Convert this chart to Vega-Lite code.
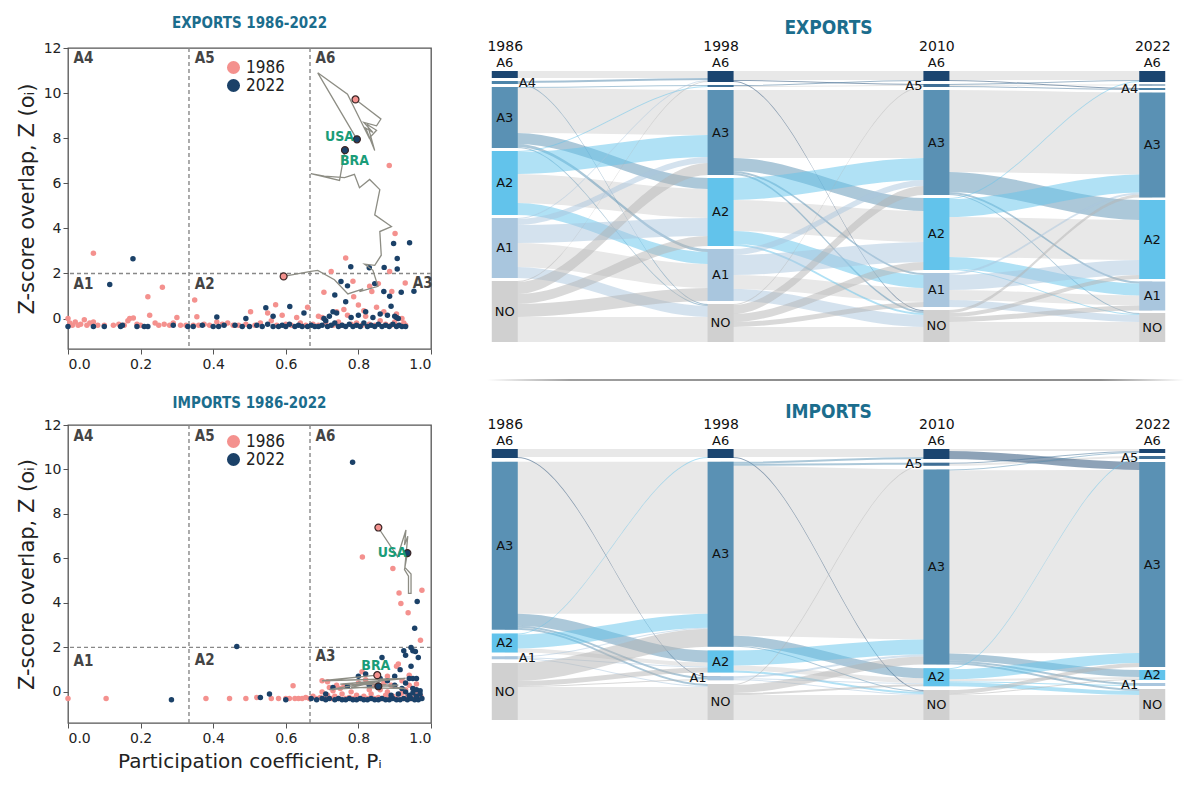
{
"$schema":"https://vega.github.io/schema/vega-lite/v6.json",
"background":"white",
"padding":{"left":15,"top":15,"right":5,"bottom":5},
"config":{"view":{"stroke":null},"font":"DejaVu Sans","axis":{"labelFont":"DejaVu Sans","titleFont":"DejaVu Sans","labelColor":"#222","titleColor":"#222","tickColor":"#555"}},
"datasets":{
"pts":[
{"p":"E","yr":"1986","x":0.07,"y":2.9},{"p":"E","yr":"1986","x":0.22,"y":0.97},{"p":"E","yr":"1986","x":0.26,"y":1.39},{"p":"E","yr":"1986","x":0.225,"y":0.15},{"p":"E","yr":"1986","x":0.349,"y":0.82},{"p":"E","yr":"1986","x":0.355,"y":0.08},{"p":"E","yr":"1986","x":0.503,"y":0.3},{"p":"E","yr":"1986","x":0.572,"y":0.61},{"p":"E","yr":"1986","x":0.55,"y":0.25},{"p":"E","yr":"1986","x":0.59,"y":0.15},{"p":"E","yr":"1986","x":0.66,"y":0.5},{"p":"E","yr":"1986","x":0.765,"y":2.69},{"p":"E","yr":"1986","x":0.725,"y":2.09},{"p":"E","yr":"1986","x":0.705,"y":1.17},{"p":"E","yr":"1986","x":0.785,"y":1.65},{"p":"E","yr":"1986","x":0.787,"y":0.97},{"p":"E","yr":"1986","x":0.76,"y":0.4},{"p":"E","yr":"1986","x":0.74,"y":0.3},{"p":"E","yr":"1986","x":0.831,"y":1.43},{"p":"E","yr":"1986","x":0.837,"y":1.2},{"p":"E","yr":"1986","x":0.855,"y":1.55},{"p":"E","yr":"1986","x":0.885,"y":6.79},{"p":"E","yr":"1986","x":0.901,"y":3.77},{"p":"E","yr":"1986","x":0.886,"y":2.09},{"p":"E","yr":"1986","x":0.892,"y":1.2},{"p":"E","yr":"1986","x":0.929,"y":1.58},{"p":"E","yr":"1986","x":0.85,"y":0.5},{"p":"E","yr":"1986","x":0.87,"y":0.3},{"p":"E","yr":"1986","x":0.905,"y":0.2},{"p":"E","yr":"1986","x":0.92,"y":0.0},{"p":"E","yr":"1986","x":0.8,"y":0.6},{"p":"E","yr":"1986","x":0.815,"y":0.35},{"p":"E","yr":"1986","x":0.69,"y":0.1},{"p":"E","yr":"1986","x":0.7,"y":0.05},{"p":"E","yr":"1986","x":0.63,"y":0.05},
{"p":"E","yr":"1986","x":0.0,"y":0.0},{"p":"E","yr":"1986","x":0.005,"y":-0.2},{"p":"E","yr":"1986","x":0.012,"y":-0.3},{"p":"E","yr":"1986","x":0.02,"y":-0.15},{"p":"E","yr":"1986","x":0.028,"y":-0.3},{"p":"E","yr":"1986","x":0.035,"y":-0.25},{"p":"E","yr":"1986","x":0.045,"y":-0.05},{"p":"E","yr":"1986","x":0.052,"y":-0.3},{"p":"E","yr":"1986","x":0.06,"y":-0.2},{"p":"E","yr":"1986","x":0.07,"y":-0.15},{"p":"E","yr":"1986","x":0.082,"y":-0.3},{"p":"E","yr":"1986","x":0.1,"y":-0.3},{"p":"E","yr":"1986","x":0.125,"y":-0.3},{"p":"E","yr":"1986","x":0.14,"y":-0.25},{"p":"E","yr":"1986","x":0.155,"y":-0.3},{"p":"E","yr":"1986","x":0.165,"y":-0.1},{"p":"E","yr":"1986","x":0.17,"y":0.0},{"p":"E","yr":"1986","x":0.18,"y":0.02},{"p":"E","yr":"1986","x":0.19,"y":-0.25},{"p":"E","yr":"1986","x":0.2,"y":-0.3},{"p":"E","yr":"1986","x":0.24,"y":-0.2},{"p":"E","yr":"1986","x":0.25,"y":-0.3},{"p":"E","yr":"1986","x":0.265,"y":-0.25},{"p":"E","yr":"1986","x":0.28,"y":-0.3},{"p":"E","yr":"1986","x":0.29,"y":-0.2},{"p":"E","yr":"1986","x":0.3,"y":0.05},{"p":"E","yr":"1986","x":0.31,"y":-0.3},{"p":"E","yr":"1986","x":0.325,"y":-0.3},{"p":"E","yr":"1986","x":0.345,"y":-0.3},{"p":"E","yr":"1986","x":0.36,"y":-0.3},{"p":"E","yr":"1986","x":0.375,"y":-0.25},{"p":"E","yr":"1986","x":0.39,"y":-0.3},{"p":"E","yr":"1986","x":0.41,"y":-0.15},{"p":"E","yr":"1986","x":0.425,"y":-0.25},{"p":"E","yr":"1986","x":0.44,"y":-0.2},{"p":"E","yr":"1986","x":0.455,"y":-0.3},{"p":"E","yr":"1986","x":0.47,"y":-0.3},{"p":"E","yr":"1986","x":0.49,"y":-0.25},{"p":"E","yr":"1986","x":0.515,"y":-0.3},{"p":"E","yr":"1986","x":0.53,"y":-0.2},{"p":"E","yr":"1986","x":0.56,"y":-0.1},{"p":"E","yr":"1986","x":0.575,"y":-0.3},{"p":"E","yr":"1986","x":0.6,"y":-0.25},{"p":"E","yr":"1986","x":0.615,"y":-0.3},{"p":"E","yr":"1986","x":0.64,"y":-0.2},{"p":"E","yr":"1986","x":0.655,"y":-0.3},{"p":"E","yr":"1986","x":0.675,"y":-0.25},{"p":"E","yr":"1986","x":0.69,"y":-0.3},{"p":"E","yr":"1986","x":0.71,"y":-0.2},{"p":"E","yr":"1986","x":0.73,"y":-0.3},{"p":"E","yr":"1986","x":0.745,"y":-0.15},{"p":"E","yr":"1986","x":0.755,"y":-0.3},{"p":"E","yr":"1986","x":0.77,"y":0.15},{"p":"E","yr":"1986","x":0.78,"y":-0.25},{"p":"E","yr":"1986","x":0.795,"y":-0.2},{"p":"E","yr":"1986","x":0.81,"y":-0.3},{"p":"E","yr":"1986","x":0.82,"y":0.1},{"p":"E","yr":"1986","x":0.83,"y":-0.25},{"p":"E","yr":"1986","x":0.845,"y":-0.3},{"p":"E","yr":"1986","x":0.86,"y":-0.1},{"p":"E","yr":"1986","x":0.875,"y":-0.25},{"p":"E","yr":"1986","x":0.89,"y":-0.3},{"p":"E","yr":"1986","x":0.9,"y":-0.15},{"p":"E","yr":"1986","x":0.915,"y":-0.3},{"p":"E","yr":"1986","x":0.925,"y":-0.2},{"p":"E","yr":"1986","x":0.93,"y":-0.3},
{"p":"E","yr":"2022","x":0.115,"y":1.51},{"p":"E","yr":"2022","x":0.179,"y":2.65},{"p":"E","yr":"2022","x":0.41,"y":0.07},{"p":"E","yr":"2022","x":0.49,"y":0.0},{"p":"E","yr":"2022","x":0.545,"y":0.48},{"p":"E","yr":"2022","x":0.565,"y":0.1},{"p":"E","yr":"2022","x":0.611,"y":0.54},{"p":"E","yr":"2022","x":0.65,"y":0.25},{"p":"E","yr":"2022","x":0.73,"y":0.3},{"p":"E","yr":"2022","x":0.735,"y":1.05},{"p":"E","yr":"2022","x":0.765,"y":0.75},{"p":"E","yr":"2022","x":0.752,"y":1.64},{"p":"E","yr":"2022","x":0.77,"y":1.45},{"p":"E","yr":"2022","x":0.779,"y":2.3},{"p":"E","yr":"2022","x":0.83,"y":2.25},{"p":"E","yr":"2022","x":0.845,"y":1.55},{"p":"E","yr":"2022","x":0.87,"y":1.2},{"p":"E","yr":"2022","x":0.871,"y":2.27},{"p":"E","yr":"2022","x":0.886,"y":0.99},{"p":"E","yr":"2022","x":0.89,"y":0.55},{"p":"E","yr":"2022","x":0.897,"y":3.33},{"p":"E","yr":"2022","x":0.907,"y":2.66},{"p":"E","yr":"2022","x":0.907,"y":2.2},{"p":"E","yr":"2022","x":0.918,"y":1.17},{"p":"E","yr":"2022","x":0.941,"y":3.36},{"p":"E","yr":"2022","x":0.953,"y":1.21},{"p":"E","yr":"2022","x":0.9,"y":0.1},{"p":"E","yr":"2022","x":0.91,"y":0.0},{"p":"E","yr":"2022","x":0.88,"y":0.15},{"p":"E","yr":"2022","x":0.86,"y":0.2},{"p":"E","yr":"2022","x":0.82,"y":0.3},{"p":"E","yr":"2022","x":0.8,"y":0.15},{"p":"E","yr":"2022","x":0.78,"y":0.05},{"p":"E","yr":"2022","x":0.74,"y":0.25},{"p":"E","yr":"2022","x":0.72,"y":0.1},{"p":"E","yr":"2022","x":0.705,"y":0.0},{"p":"E","yr":"2022","x":0.84,"y":0.05},{"p":"E","yr":"2022","x":0.905,"y":0.05},
{"p":"E","yr":"2022","x":0.0,"y":-0.35},{"p":"E","yr":"2022","x":0.07,"y":-0.35},{"p":"E","yr":"2022","x":0.1,"y":-0.35},{"p":"E","yr":"2022","x":0.145,"y":-0.35},{"p":"E","yr":"2022","x":0.15,"y":-0.3},{"p":"E","yr":"2022","x":0.19,"y":-0.35},{"p":"E","yr":"2022","x":0.21,"y":-0.35},{"p":"E","yr":"2022","x":0.22,"y":-0.35},{"p":"E","yr":"2022","x":0.29,"y":-0.3},{"p":"E","yr":"2022","x":0.33,"y":-0.35},{"p":"E","yr":"2022","x":0.345,"y":-0.35},{"p":"E","yr":"2022","x":0.37,"y":-0.3},{"p":"E","yr":"2022","x":0.4,"y":-0.35},{"p":"E","yr":"2022","x":0.415,"y":-0.35},{"p":"E","yr":"2022","x":0.43,"y":-0.3},{"p":"E","yr":"2022","x":0.46,"y":-0.3},{"p":"E","yr":"2022","x":0.48,"y":-0.35},{"p":"E","yr":"2022","x":0.5,"y":-0.35},{"p":"E","yr":"2022","x":0.52,"y":-0.3},{"p":"E","yr":"2022","x":0.535,"y":-0.35},{"p":"E","yr":"2022","x":0.55,"y":-0.25},{"p":"E","yr":"2022","x":0.565,"y":-0.35},{"p":"E","yr":"2022","x":0.58,"y":-0.35},{"p":"E","yr":"2022","x":0.59,"y":-0.3},{"p":"E","yr":"2022","x":0.6,"y":-0.35},{"p":"E","yr":"2022","x":0.61,"y":-0.25},{"p":"E","yr":"2022","x":0.625,"y":-0.35},{"p":"E","yr":"2022","x":0.635,"y":-0.3},{"p":"E","yr":"2022","x":0.645,"y":-0.35},{"p":"E","yr":"2022","x":0.66,"y":-0.35},{"p":"E","yr":"2022","x":0.67,"y":-0.3},{"p":"E","yr":"2022","x":0.68,"y":-0.35},{"p":"E","yr":"2022","x":0.69,"y":-0.35},{"p":"E","yr":"2022","x":0.7,"y":-0.3},{"p":"E","yr":"2022","x":0.71,"y":-0.1},{"p":"E","yr":"2022","x":0.715,"y":-0.35},{"p":"E","yr":"2022","x":0.725,"y":-0.3},{"p":"E","yr":"2022","x":0.735,"y":-0.2},{"p":"E","yr":"2022","x":0.745,"y":-0.35},{"p":"E","yr":"2022","x":0.755,"y":-0.3},{"p":"E","yr":"2022","x":0.765,"y":-0.35},{"p":"E","yr":"2022","x":0.775,"y":-0.25},{"p":"E","yr":"2022","x":0.785,"y":-0.35},{"p":"E","yr":"2022","x":0.795,"y":-0.3},{"p":"E","yr":"2022","x":0.805,"y":-0.35},{"p":"E","yr":"2022","x":0.815,"y":-0.2},{"p":"E","yr":"2022","x":0.825,"y":-0.35},{"p":"E","yr":"2022","x":0.835,"y":-0.3},{"p":"E","yr":"2022","x":0.845,"y":-0.35},{"p":"E","yr":"2022","x":0.855,"y":-0.25},{"p":"E","yr":"2022","x":0.865,"y":-0.35},{"p":"E","yr":"2022","x":0.875,"y":-0.3},{"p":"E","yr":"2022","x":0.885,"y":-0.35},{"p":"E","yr":"2022","x":0.895,"y":-0.25},{"p":"E","yr":"2022","x":0.905,"y":-0.35},{"p":"E","yr":"2022","x":0.912,"y":-0.3},{"p":"E","yr":"2022","x":0.92,"y":-0.35},{"p":"E","yr":"2022","x":0.93,"y":-0.35},
{"p":"I","yr":"1986","x":0.0,"y":-0.3},{"p":"I","yr":"1986","x":0.105,"y":-0.3},{"p":"I","yr":"1986","x":0.38,"y":-0.3},{"p":"I","yr":"1986","x":0.445,"y":-0.3},{"p":"I","yr":"1986","x":0.49,"y":-0.3},{"p":"I","yr":"1986","x":0.52,"y":-0.25},{"p":"I","yr":"1986","x":0.56,"y":-0.3},{"p":"I","yr":"1986","x":0.58,"y":-0.3},{"p":"I","yr":"1986","x":0.6,"y":-0.3},{"p":"I","yr":"1986","x":0.62,"y":0.27},{"p":"I","yr":"1986","x":0.811,"y":6.06},{"p":"I","yr":"1986","x":0.895,"y":5.55},{"p":"I","yr":"1986","x":0.912,"y":4.45},{"p":"I","yr":"1986","x":0.917,"y":3.97},{"p":"I","yr":"1986","x":0.937,"y":3.56},{"p":"I","yr":"1986","x":0.975,"y":4.57},{"p":"I","yr":"1986","x":0.971,"y":2.32},{"p":"I","yr":"1986","x":0.91,"y":1.25},{"p":"I","yr":"1986","x":0.905,"y":1.15},{"p":"I","yr":"1986","x":0.88,"y":0.7},{"p":"I","yr":"1986","x":0.92,"y":0.5},{"p":"I","yr":"1986","x":0.95,"y":0.15},{"p":"I","yr":"1986","x":0.89,"y":0.3},{"p":"I","yr":"1986","x":0.7,"y":0.5},{"p":"I","yr":"1986","x":0.715,"y":0.45},{"p":"I","yr":"1986","x":0.72,"y":0.2},{"p":"I","yr":"1986","x":0.74,"y":0.3},{"p":"I","yr":"1986","x":0.75,"y":0.15},{"p":"I","yr":"1986","x":0.76,"y":0.25},{"p":"I","yr":"1986","x":0.8,"y":0.4},{"p":"I","yr":"1986","x":0.82,"y":0.55},{"p":"I","yr":"1986","x":0.84,"y":0.3},{"p":"I","yr":"1986","x":0.86,"y":0.1},{"p":"I","yr":"1986","x":0.87,"y":0.4},{"p":"I","yr":"1986","x":0.9,"y":0.25},{"p":"I","yr":"1986","x":0.93,"y":0.1},{"p":"I","yr":"1986","x":0.94,"y":0.3},{"p":"I","yr":"1986","x":0.96,"y":0.0},{"p":"I","yr":"1986","x":0.81,"y":0.9},{"p":"I","yr":"1986","x":0.94,"y":0.75},{"p":"I","yr":"1986","x":0.96,"y":0.35},
{"p":"I","yr":"1986","x":0.61,"y":-0.3},{"p":"I","yr":"1986","x":0.625,"y":-0.3},{"p":"I","yr":"1986","x":0.635,"y":-0.3},{"p":"I","yr":"1986","x":0.645,"y":-0.3},{"p":"I","yr":"1986","x":0.655,"y":-0.25},{"p":"I","yr":"1986","x":0.665,"y":-0.3},{"p":"I","yr":"1986","x":0.675,"y":-0.2},{"p":"I","yr":"1986","x":0.685,"y":-0.3},{"p":"I","yr":"1986","x":0.695,"y":-0.25},{"p":"I","yr":"1986","x":0.705,"y":-0.3},{"p":"I","yr":"1986","x":0.715,"y":-0.15},{"p":"I","yr":"1986","x":0.725,"y":-0.3},{"p":"I","yr":"1986","x":0.735,"y":-0.2},{"p":"I","yr":"1986","x":0.745,"y":-0.3},{"p":"I","yr":"1986","x":0.755,"y":-0.1},{"p":"I","yr":"1986","x":0.765,"y":-0.3},{"p":"I","yr":"1986","x":0.775,"y":-0.25},{"p":"I","yr":"1986","x":0.785,"y":-0.3},{"p":"I","yr":"1986","x":0.795,"y":-0.15},{"p":"I","yr":"1986","x":0.805,"y":-0.3},{"p":"I","yr":"1986","x":0.815,"y":-0.2},{"p":"I","yr":"1986","x":0.825,"y":-0.3},{"p":"I","yr":"1986","x":0.835,"y":-0.1},{"p":"I","yr":"1986","x":0.845,"y":-0.3},{"p":"I","yr":"1986","x":0.855,"y":-0.25},{"p":"I","yr":"1986","x":0.865,"y":-0.3},{"p":"I","yr":"1986","x":0.875,"y":-0.15},{"p":"I","yr":"1986","x":0.885,"y":-0.3},{"p":"I","yr":"1986","x":0.895,"y":-0.2},{"p":"I","yr":"1986","x":0.905,"y":-0.3},{"p":"I","yr":"1986","x":0.915,"y":-0.1},{"p":"I","yr":"1986","x":0.925,"y":-0.3},{"p":"I","yr":"1986","x":0.935,"y":-0.2},{"p":"I","yr":"1986","x":0.945,"y":-0.3},{"p":"I","yr":"1986","x":0.955,"y":-0.25},{"p":"I","yr":"1986","x":0.965,"y":-0.3},{"p":"I","yr":"1986","x":0.972,"y":-0.2},{"p":"I","yr":"1986","x":0.7,"y":0.0},{"p":"I","yr":"1986","x":0.73,"y":0.05},{"p":"I","yr":"1986","x":0.78,"y":0.0},{"p":"I","yr":"1986","x":0.83,"y":0.1},{"p":"I","yr":"1986","x":0.88,"y":0.0},{"p":"I","yr":"1986","x":0.92,"y":-0.05},
{"p":"I","yr":"2022","x":0.285,"y":-0.35},{"p":"I","yr":"2022","x":0.465,"y":2.04},{"p":"I","yr":"2022","x":0.53,"y":-0.25},{"p":"I","yr":"2022","x":0.555,"y":-0.1},{"p":"I","yr":"2022","x":0.6,"y":-0.35},{"p":"I","yr":"2022","x":0.67,"y":-0.3},{"p":"I","yr":"2022","x":0.784,"y":10.33},{"p":"I","yr":"2022","x":0.962,"y":4.06},{"p":"I","yr":"2022","x":0.955,"y":2.86},{"p":"I","yr":"2022","x":0.945,"y":2.0},{"p":"I","yr":"2022","x":0.95,"y":1.85},{"p":"I","yr":"2022","x":0.957,"y":1.82},{"p":"I","yr":"2022","x":0.925,"y":1.85},{"p":"I","yr":"2022","x":0.93,"y":1.65},{"p":"I","yr":"2022","x":0.965,"y":1.55},{"p":"I","yr":"2022","x":0.865,"y":1.55},{"p":"I","yr":"2022","x":0.945,"y":1.15},{"p":"I","yr":"2022","x":0.915,"y":1.0},{"p":"I","yr":"2022","x":0.94,"y":0.6},{"p":"I","yr":"2022","x":0.95,"y":0.6},{"p":"I","yr":"2022","x":0.96,"y":0.6},{"p":"I","yr":"2022","x":0.9,"y":0.7},{"p":"I","yr":"2022","x":0.86,"y":0.6},{"p":"I","yr":"2022","x":0.82,"y":0.8},{"p":"I","yr":"2022","x":0.8,"y":0.7},{"p":"I","yr":"2022","x":0.9,"y":0.3},{"p":"I","yr":"2022","x":0.92,"y":0.15},{"p":"I","yr":"2022","x":0.95,"y":0.15},{"p":"I","yr":"2022","x":0.96,"y":0.1},{"p":"I","yr":"2022","x":0.83,"y":0.3},{"p":"I","yr":"2022","x":0.77,"y":0.25},{"p":"I","yr":"2022","x":0.73,"y":0.2},{"p":"I","yr":"2022","x":0.71,"y":-0.1},{"p":"I","yr":"2022","x":0.88,"y":0.5},{"p":"I","yr":"2022","x":0.93,"y":0.4},{"p":"I","yr":"2022","x":0.97,"y":0.05},
{"p":"I","yr":"2022","x":0.685,"y":-0.35},{"p":"I","yr":"2022","x":0.7,"y":-0.3},{"p":"I","yr":"2022","x":0.71,"y":-0.35},{"p":"I","yr":"2022","x":0.72,"y":-0.3},{"p":"I","yr":"2022","x":0.735,"y":-0.35},{"p":"I","yr":"2022","x":0.745,"y":-0.3},{"p":"I","yr":"2022","x":0.755,"y":-0.35},{"p":"I","yr":"2022","x":0.765,"y":-0.35},{"p":"I","yr":"2022","x":0.775,"y":-0.3},{"p":"I","yr":"2022","x":0.785,"y":-0.35},{"p":"I","yr":"2022","x":0.795,"y":-0.35},{"p":"I","yr":"2022","x":0.805,"y":-0.3},{"p":"I","yr":"2022","x":0.815,"y":-0.35},{"p":"I","yr":"2022","x":0.825,"y":-0.35},{"p":"I","yr":"2022","x":0.835,"y":-0.3},{"p":"I","yr":"2022","x":0.845,"y":-0.35},{"p":"I","yr":"2022","x":0.855,"y":-0.35},{"p":"I","yr":"2022","x":0.865,"y":-0.3},{"p":"I","yr":"2022","x":0.875,"y":-0.35},{"p":"I","yr":"2022","x":0.885,"y":-0.35},{"p":"I","yr":"2022","x":0.895,"y":-0.3},{"p":"I","yr":"2022","x":0.905,"y":-0.35},{"p":"I","yr":"2022","x":0.915,"y":-0.35},{"p":"I","yr":"2022","x":0.925,"y":-0.3},{"p":"I","yr":"2022","x":0.935,"y":-0.35},{"p":"I","yr":"2022","x":0.945,"y":-0.3},{"p":"I","yr":"2022","x":0.955,"y":-0.35},{"p":"I","yr":"2022","x":0.965,"y":-0.35},{"p":"I","yr":"2022","x":0.975,"y":-0.3},{"p":"I","yr":"2022","x":0.94,"y":-0.15},{"p":"I","yr":"2022","x":0.95,"y":-0.05},{"p":"I","yr":"2022","x":0.93,"y":0.0},{"p":"I","yr":"2022","x":0.96,"y":-0.2},{"p":"I","yr":"2022","x":0.91,"y":-0.1},{"p":"I","yr":"2022","x":0.89,"y":-0.15},{"p":"I","yr":"2022","x":0.97,"y":-0.1}
],
"traj":[
{"p":"E","c":"USA","o":1,"x":0.792,"y":9.72},{"p":"E","c":"USA","o":2,"x":0.862,"y":8.85},{"p":"E","c":"USA","o":3,"x":0.85,"y":8.55},{"p":"E","c":"USA","o":4,"x":0.815,"y":8.7},{"p":"E","c":"USA","o":5,"x":0.84,"y":8.25},{"p":"E","c":"USA","o":6,"x":0.82,"y":8.45},{"p":"E","c":"USA","o":7,"x":0.845,"y":7.45},{"p":"E","c":"USA","o":8,"x":0.825,"y":8.6},{"p":"E","c":"USA","o":9,"x":0.85,"y":8.35},{"p":"E","c":"USA","o":10,"x":0.83,"y":8.0},{"p":"E","c":"USA","o":11,"x":0.77,"y":9.95},{"p":"E","c":"USA","o":12,"x":0.688,"y":10.9},{"p":"E","c":"USA","o":13,"x":0.796,"y":7.95},
{"p":"E","c":"BRA","o":1,"x":0.594,"y":1.87},{"p":"E","c":"BRA","o":2,"x":0.669,"y":2.09},{"p":"E","c":"BRA","o":3,"x":0.688,"y":2.14},{"p":"E","c":"BRA","o":4,"x":0.734,"y":1.72},{"p":"E","c":"BRA","o":5,"x":0.771,"y":1.09},{"p":"E","c":"BRA","o":6,"x":0.813,"y":1.32},{"p":"E","c":"BRA","o":7,"x":0.803,"y":1.2},{"p":"E","c":"BRA","o":8,"x":0.854,"y":1.43},{"p":"E","c":"BRA","o":9,"x":0.84,"y":2.14},{"p":"E","c":"BRA","o":10,"x":0.817,"y":2.41},{"p":"E","c":"BRA","o":11,"x":0.845,"y":2.36},{"p":"E","c":"BRA","o":12,"x":0.863,"y":2.81},{"p":"E","c":"BRA","o":13,"x":0.859,"y":3.86},{"p":"E","c":"BRA","o":14,"x":0.891,"y":4.08},{"p":"E","c":"BRA","o":15,"x":0.845,"y":4.6},{"p":"E","c":"BRA","o":16,"x":0.859,"y":5.72},{"p":"E","c":"BRA","o":17,"x":0.831,"y":6.17},{"p":"E","c":"BRA","o":18,"x":0.803,"y":5.8},{"p":"E","c":"BRA","o":19,"x":0.789,"y":6.4},{"p":"E","c":"BRA","o":20,"x":0.762,"y":6.25},{"p":"E","c":"BRA","o":21,"x":0.706,"y":6.32},{"p":"E","c":"BRA","o":22,"x":0.669,"y":6.43},{"p":"E","c":"BRA","o":23,"x":0.748,"y":6.13},{"p":"E","c":"BRA","o":24,"x":0.763,"y":7.47},
{"p":"I","c":"USA","o":1,"x":0.855,"y":7.38},{"p":"I","c":"USA","o":2,"x":0.908,"y":6.08},{"p":"I","c":"USA","o":3,"x":0.931,"y":7.28},{"p":"I","c":"USA","o":4,"x":0.927,"y":6.6},{"p":"I","c":"USA","o":5,"x":0.936,"y":7.0},{"p":"I","c":"USA","o":6,"x":0.928,"y":5.6},{"p":"I","c":"USA","o":7,"x":0.945,"y":5.3},{"p":"I","c":"USA","o":8,"x":0.945,"y":4.43},{"p":"I","c":"USA","o":9,"x":0.938,"y":4.43},{"p":"I","c":"USA","o":10,"x":0.938,"y":5.2},{"p":"I","c":"USA","o":11,"x":0.927,"y":5.5},{"p":"I","c":"USA","o":12,"x":0.935,"y":6.24},
{"p":"I","c":"BRA","o":1,"x":0.852,"y":0.75},{"p":"I","c":"BRA","o":2,"x":0.7,"y":0.5},{"p":"I","c":"BRA","o":3,"x":0.93,"y":0.6},{"p":"I","c":"BRA","o":4,"x":0.75,"y":0.35},{"p":"I","c":"BRA","o":5,"x":0.91,"y":0.3},{"p":"I","c":"BRA","o":6,"x":0.72,"y":0.1},{"p":"I","c":"BRA","o":7,"x":0.88,"y":0.55},{"p":"I","c":"BRA","o":8,"x":0.78,"y":0.2},{"p":"I","c":"BRA","o":9,"x":0.93,"y":0.15},{"p":"I","c":"BRA","o":10,"x":0.8,"y":0.45},{"p":"I","c":"BRA","o":11,"x":0.855,"y":0.25}
],
"hl":[
{"p":"E","yr":"1986","x":0.792,"y":9.72},{"p":"E","yr":"1986","x":0.594,"y":1.87},{"p":"E","yr":"2022","x":0.796,"y":7.95},{"p":"E","yr":"2022","x":0.763,"y":7.47},
{"p":"I","yr":"1986","x":0.855,"y":7.39},{"p":"I","yr":"1986","x":0.852,"y":0.75},{"p":"I","yr":"2022","x":0.935,"y":6.24},{"p":"I","yr":"2022","x":0.855,"y":0.25}
],
"ann":[
{"p":"E","k":"z","t":"A4","x":0.015,"y":11.55},{"p":"E","k":"z","t":"A5","x":0.349,"y":11.55},{"p":"E","k":"z","t":"A6","x":0.682,"y":11.55},{"p":"E","k":"z","t":"A1","x":0.015,"y":1.55},{"p":"E","k":"z","t":"A2","x":0.349,"y":1.55},{"p":"E","k":"z","t":"A3","x":0.95,"y":1.58},
{"p":"I","k":"z","t":"A4","x":0.015,"y":11.5},{"p":"I","k":"z","t":"A5","x":0.349,"y":11.5},{"p":"I","k":"z","t":"A6","x":0.682,"y":11.5},{"p":"I","k":"z","t":"A1","x":0.015,"y":1.38},{"p":"I","k":"z","t":"A2","x":0.349,"y":1.45},{"p":"I","k":"z","t":"A3","x":0.682,"y":1.6},
{"p":"E","k":"c","t":"USA","x":0.748,"y":8.04},{"p":"E","k":"c","t":"BRA","x":0.789,"y":7.0},{"p":"I","k":"c","t":"USA","x":0.893,"y":6.24},{"p":"I","k":"c","t":"BRA","x":0.848,"y":1.15}
],
"nodes":[
{"g":"E","x":1986,"n":"A6","y":0,"y2":7,"m":0,"p":"top"},{"g":"E","x":1986,"n":"A4","y":10,"y2":13,"m":11.5,"p":"r"},{"g":"E","x":1986,"n":"A3","y":16,"y2":77,"m":46.5,"p":"in"},{"g":"E","x":1986,"n":"A2","y":80,"y2":144,"m":112,"p":"in"},{"g":"E","x":1986,"n":"A1","y":147,"y2":207,"m":177,"p":"in"},{"g":"E","x":1986,"n":"NO","y":210,"y2":271,"m":240.5,"p":"in"},
{"g":"E","x":1998,"n":"A6","y":0,"y2":11,"m":0,"p":"top"},{"g":"E","x":1998,"n":"A5","y":14,"y2":16,"m":15,"p":"none"},{"g":"E","x":1998,"n":"A3","y":19,"y2":104,"m":61.5,"p":"in"},{"g":"E","x":1998,"n":"A2","y":107,"y2":175,"m":141,"p":"in"},{"g":"E","x":1998,"n":"A1","y":178,"y2":230,"m":204,"p":"in"},{"g":"E","x":1998,"n":"NO","y":233,"y2":271,"m":252,"p":"in"},
{"g":"E","x":2010,"n":"A6","y":0,"y2":10,"m":0,"p":"top"},{"g":"E","x":2010,"n":"A5","y":13,"y2":16,"m":14.5,"p":"l"},{"g":"E","x":2010,"n":"A3","y":19,"y2":124,"m":71.5,"p":"in"},{"g":"E","x":2010,"n":"A2","y":127,"y2":199,"m":163,"p":"in"},{"g":"E","x":2010,"n":"A1","y":202,"y2":236,"m":219,"p":"in"},{"g":"E","x":2010,"n":"NO","y":239,"y2":271,"m":255,"p":"in"},
{"g":"E","x":2022,"n":"A6","y":0,"y2":11,"m":0,"p":"top"},{"g":"E","x":2022,"n":"A5","y":13.5,"y2":14.5,"m":14,"p":"none"},{"g":"E","x":2022,"n":"A4","y":17,"y2":19,"m":18,"p":"l"},{"g":"E","x":2022,"n":"A3","y":21.5,"y2":126.5,"m":74,"p":"in"},{"g":"E","x":2022,"n":"A2","y":129,"y2":208,"m":168.5,"p":"in"},{"g":"E","x":2022,"n":"A1","y":210.5,"y2":239.5,"m":225,"p":"in"},{"g":"E","x":2022,"n":"NO","y":242,"y2":271,"m":256.5,"p":"in"},
{"g":"I","x":1986,"n":"A6","y":0,"y2":9,"m":0,"p":"top"},{"g":"I","x":1986,"n":"A3","y":12.75,"y2":180.75,"m":96.75,"p":"in"},{"g":"I","x":1986,"n":"A2","y":184.5,"y2":203.5,"m":194,"p":"in"},{"g":"I","x":1986,"n":"A1","y":207.25,"y2":210.25,"m":208.75,"p":"r"},{"g":"I","x":1986,"n":"NO","y":214,"y2":271,"m":242.5,"p":"in"},
{"g":"I","x":1998,"n":"A6","y":0,"y2":9,"m":0,"p":"top"},{"g":"I","x":1998,"n":"A3","y":12.75,"y2":197.75,"m":105.25,"p":"in"},{"g":"I","x":1998,"n":"A2","y":201.5,"y2":223.5,"m":212.5,"p":"in"},{"g":"I","x":1998,"n":"A1","y":227.25,"y2":231.25,"m":229.25,"p":"l"},{"g":"I","x":1998,"n":"NO","y":235,"y2":271,"m":253,"p":"in"},
{"g":"I","x":2010,"n":"A6","y":0,"y2":10,"m":0,"p":"top"},{"g":"I","x":2010,"n":"A5","y":13.75,"y2":16.75,"m":15.25,"p":"l"},{"g":"I","x":2010,"n":"A3","y":20.5,"y2":215.5,"m":118,"p":"in"},{"g":"I","x":2010,"n":"A2","y":219.25,"y2":237.25,"m":228.25,"p":"in"},{"g":"I","x":2010,"n":"NO","y":241,"y2":271,"m":256,"p":"in"},
{"g":"I","x":2022,"n":"A6","y":0,"y2":4,"m":0,"p":"top"},{"g":"I","x":2022,"n":"A5","y":7,"y2":10,"m":8.5,"p":"l"},{"g":"I","x":2022,"n":"A3","y":13,"y2":218,"m":115.5,"p":"in"},{"g":"I","x":2022,"n":"A2","y":221,"y2":231,"m":226,"p":"in"},{"g":"I","x":2022,"n":"A1","y":234,"y2":237,"m":235.5,"p":"l"},{"g":"I","x":2022,"n":"NO","y":240,"y2":271,"m":255.5,"p":"in"}
],
"flows":[
{"g":"E","f":"E1-1","c":"self","x":[1986,1986.7,1997.3,1998],"y":[0,0,0,0],"y2":[7,7,7,7]},
{"g":"E","f":"E1-2","c":"A4","x":[1986,1986.7,1997.3,1998],"y":[10,10,7,7],"y2":[12,12,9,9]},
{"g":"E","f":"E1-3","c":"A4","x":[1986,1986.7,1997.3,1998],"y":[12,12,233,233],"y2":[13,13,234,234]},
{"g":"E","f":"E1-4","c":"A3","x":[1986,1986.7,1997.3,1998],"y":[16,16,14,14],"y2":[17,17,15,15]},
{"g":"E","f":"E1-5","c":"self","x":[1986,1986.7,1997.3,1998],"y":[17,17,19,19],"y2":[62,62,64,64]},
{"g":"E","f":"E1-6","c":"A3","x":[1986,1986.7,1997.3,1998],"y":[62,62,107,107],"y2":[73,73,118,118]},
{"g":"E","f":"E1-7","c":"A3","x":[1986,1986.7,1997.3,1998],"y":[73,73,178,178],"y2":[76,76,181,181]},
{"g":"E","f":"E1-8","c":"A3","x":[1986,1986.7,1997.3,1998],"y":[76,76,234,234],"y2":[77,77,235,235]},
{"g":"E","f":"E1-9","c":"A2","x":[1986,1986.7,1997.3,1998],"y":[80,80,15,15],"y2":[81,81,16,16]},
{"g":"E","f":"E1-10","c":"A2","x":[1986,1986.7,1997.3,1998],"y":[81,81,64,64],"y2":[103,103,86,86]},
{"g":"E","f":"E1-11","c":"self","x":[1986,1986.7,1997.3,1998],"y":[103,103,118,118],"y2":[132,132,147,147]},
{"g":"E","f":"E1-12","c":"A2","x":[1986,1986.7,1997.3,1998],"y":[132,132,181,181],"y2":[144,144,193,193]},
{"g":"E","f":"E1-13","c":"A1","x":[1986,1986.7,1997.3,1998],"y":[147,147,9,9],"y2":[148,148,10,10]},
{"g":"E","f":"E1-14","c":"A1","x":[1986,1986.7,1997.3,1998],"y":[148,148,86,86],"y2":[154,154,92,92]},
{"g":"E","f":"E1-15","c":"A1","x":[1986,1986.7,1997.3,1998],"y":[154,154,147,147],"y2":[172,172,165,165]},
{"g":"E","f":"E1-16","c":"self","x":[1986,1986.7,1997.3,1998],"y":[172,172,193,193],"y2":[196,196,217,217]},
{"g":"E","f":"E1-17","c":"A1","x":[1986,1986.7,1997.3,1998],"y":[196,196,235,235],"y2":[207,207,246,246]},
{"g":"E","f":"E1-18","c":"NO","x":[1986,1986.7,1997.3,1998],"y":[210,210,10,10],"y2":[211,211,11,11]},
{"g":"E","f":"E1-19","c":"NO","x":[1986,1986.7,1997.3,1998],"y":[211,211,92,92],"y2":[223,223,104,104]},
{"g":"E","f":"E1-20","c":"NO","x":[1986,1986.7,1997.3,1998],"y":[223,223,165,165],"y2":[233,233,175,175]},
{"g":"E","f":"E1-21","c":"NO","x":[1986,1986.7,1997.3,1998],"y":[233,233,217,217],"y2":[246,246,230,230]},
{"g":"E","f":"E1-22","c":"self","x":[1986,1986.7,1997.3,1998],"y":[246,246,246,246],"y2":[271,271,271,271]},
{"g":"E","f":"E2-1","c":"self","x":[1998,1998.7,2009.3,2010],"y":[0,0,0,0],"y2":[9,9,9,9]},
{"g":"E","f":"E2-2","c":"A6","x":[1998,1998.7,2009.3,2010],"y":[9,9,13,13],"y2":[10,10,14,14]},
{"g":"E","f":"E2-3","c":"A6","x":[1998,1998.7,2009.3,2010],"y":[10,10,239,239],"y2":[11,11,240,240]},
{"g":"E","f":"E2-4","c":"A5","x":[1998,1998.7,2009.3,2010],"y":[14,14,9,9],"y2":[15,15,10,10]},
{"g":"E","f":"E2-5","c":"self","x":[1998,1998.7,2009.3,2010],"y":[15,15,14,14],"y2":[16,16,15,15]},
{"g":"E","f":"E2-6","c":"self","x":[1998,1998.7,2009.3,2010],"y":[19,19,19,19],"y2":[87,87,87,87]},
{"g":"E","f":"E2-7","c":"A3","x":[1998,1998.7,2009.3,2010],"y":[87,87,127,127],"y2":[100,100,140,140]},
{"g":"E","f":"E2-8","c":"A3","x":[1998,1998.7,2009.3,2010],"y":[100,100,202,202],"y2":[102,102,204,204]},
{"g":"E","f":"E2-9","c":"A3","x":[1998,1998.7,2009.3,2010],"y":[102,102,240,240],"y2":[104,104,242,242]},
{"g":"E","f":"E2-10","c":"A2","x":[1998,1998.7,2009.3,2010],"y":[107,107,87,87],"y2":[129,129,109,109]},
{"g":"E","f":"E2-11","c":"self","x":[1998,1998.7,2009.3,2010],"y":[129,129,140,140],"y2":[160,160,171,171]},
{"g":"E","f":"E2-12","c":"A2","x":[1998,1998.7,2009.3,2010],"y":[160,160,204,204],"y2":[173,173,217,217]},
{"g":"E","f":"E2-13","c":"A2","x":[1998,1998.7,2009.3,2010],"y":[173,173,242,242],"y2":[175,175,244,244]},
{"g":"E","f":"E2-14","c":"A1","x":[1998,1998.7,2009.3,2010],"y":[178,178,109,109],"y2":[184,184,115,115]},
{"g":"E","f":"E2-15","c":"A1","x":[1998,1998.7,2009.3,2010],"y":[184,184,171,171],"y2":[204,204,191,191]},
{"g":"E","f":"E2-16","c":"self","x":[1998,1998.7,2009.3,2010],"y":[204,204,217,217],"y2":[218,218,231,231]},
{"g":"E","f":"E2-17","c":"A1","x":[1998,1998.7,2009.3,2010],"y":[218,218,244,244],"y2":[230,230,256,256]},
{"g":"E","f":"E2-18","c":"NO","x":[1998,1998.7,2009.3,2010],"y":[233,233,15,15],"y2":[234,234,16,16]},
{"g":"E","f":"E2-19","c":"NO","x":[1998,1998.7,2009.3,2010],"y":[234,234,115,115],"y2":[243,243,124,124]},
{"g":"E","f":"E2-20","c":"NO","x":[1998,1998.7,2009.3,2010],"y":[243,243,191,191],"y2":[251,251,199,199]},
{"g":"E","f":"E2-21","c":"NO","x":[1998,1998.7,2009.3,2010],"y":[251,251,231,231],"y2":[256,256,236,236]},
{"g":"E","f":"E2-22","c":"self","x":[1998,1998.7,2009.3,2010],"y":[256,256,256,256],"y2":[271,271,271,271]},
{"g":"E","f":"E3-1","c":"self","x":[2010,2010.7,2021.3,2022],"y":[0,0,0,0],"y2":[9,9,9,9]},
{"g":"E","f":"E3-2","c":"A6","x":[2010,2010.7,2021.3,2022],"y":[9,9,17,17],"y2":[10,10,18,18]},
{"g":"E","f":"E3-3","c":"A5","x":[2010,2010.7,2021.3,2022],"y":[13,13,9,9],"y2":[14,14,10,10]},
{"g":"E","f":"E3-4","c":"self","x":[2010,2010.7,2021.3,2022],"y":[14,14,13.5,13.5],"y2":[15,15,14.5,14.5]},
{"g":"E","f":"E3-5","c":"A5","x":[2010,2010.7,2021.3,2022],"y":[15,15,18,18],"y2":[16,16,19,19]},
{"g":"E","f":"E3-6","c":"self","x":[2010,2010.7,2021.3,2022],"y":[19,19,21.5,21.5],"y2":[101,101,103.5,103.5]},
{"g":"E","f":"E3-7","c":"A3","x":[2010,2010.7,2021.3,2022],"y":[101,101,129,129],"y2":[121,121,149,149]},
{"g":"E","f":"E3-8","c":"A3","x":[2010,2010.7,2021.3,2022],"y":[121,121,210.5,210.5],"y2":[123,123,212.5,212.5]},
{"g":"E","f":"E3-9","c":"A3","x":[2010,2010.7,2021.3,2022],"y":[123,123,242,242],"y2":[124,124,243,243]},
{"g":"E","f":"E3-10","c":"A2","x":[2010,2010.7,2021.3,2022],"y":[127,127,10,10],"y2":[128,128,11,11]},
{"g":"E","f":"E3-11","c":"A2","x":[2010,2010.7,2021.3,2022],"y":[128,128,103.5,103.5],"y2":[146,146,121.5,121.5]},
{"g":"E","f":"E3-12","c":"self","x":[2010,2010.7,2021.3,2022],"y":[146,146,149,149],"y2":[186,186,189,189]},
{"g":"E","f":"E3-13","c":"A2","x":[2010,2010.7,2021.3,2022],"y":[186,186,212.5,212.5],"y2":[198,198,224.5,224.5]},
{"g":"E","f":"E3-14","c":"A2","x":[2010,2010.7,2021.3,2022],"y":[198,198,243,243],"y2":[199,199,244,244]},
{"g":"E","f":"E3-15","c":"A1","x":[2010,2010.7,2021.3,2022],"y":[202,202,121.5,121.5],"y2":[204,204,123.5,123.5]},
{"g":"E","f":"E3-16","c":"A1","x":[2010,2010.7,2021.3,2022],"y":[204,204,189,189],"y2":[219,219,204,204]},
{"g":"E","f":"E3-17","c":"self","x":[2010,2010.7,2021.3,2022],"y":[219,219,224.5,224.5],"y2":[229,229,234.5,234.5]},
{"g":"E","f":"E3-18","c":"A1","x":[2010,2010.7,2021.3,2022],"y":[229,229,244,244],"y2":[236,236,251,251]},
{"g":"E","f":"E3-19","c":"NO","x":[2010,2010.7,2021.3,2022],"y":[239,239,123.5,123.5],"y2":[242,242,126.5,126.5]},
{"g":"E","f":"E3-20","c":"NO","x":[2010,2010.7,2021.3,2022],"y":[242,242,204,204],"y2":[246,246,208,208]},
{"g":"E","f":"E3-21","c":"NO","x":[2010,2010.7,2021.3,2022],"y":[246,246,234.5,234.5],"y2":[251,251,239.5,239.5]},
{"g":"E","f":"E3-22","c":"self","x":[2010,2010.7,2021.3,2022],"y":[251,251,251,251],"y2":[271,271,271,271]},
{"g":"I","f":"I1-1","c":"self","x":[1986,1986.7,1997.3,1998],"y":[0,0,0,0],"y2":[8,8,8,8]},
{"g":"I","f":"I1-2","c":"A6","x":[1986,1986.7,1997.3,1998],"y":[8,8,227.25,227.25],"y2":[9,9,228.25,228.25]},
{"g":"I","f":"I1-3","c":"self","x":[1986,1986.7,1997.3,1998],"y":[12.75,12.75,12.75,12.75],"y2":[164.75,164.75,164.75,164.75]},
{"g":"I","f":"I1-4","c":"A3","x":[1986,1986.7,1997.3,1998],"y":[164.75,164.75,201.5,201.5],"y2":[176.75,176.75,213.5,213.5]},
{"g":"I","f":"I1-5","c":"A3","x":[1986,1986.7,1997.3,1998],"y":[176.75,176.75,228.25,228.25],"y2":[178.75,178.75,230.25,230.25]},
{"g":"I","f":"I1-6","c":"A3","x":[1986,1986.7,1997.3,1998],"y":[178.75,178.75,235,235],"y2":[180.75,180.75,237,237]},
{"g":"I","f":"I1-7","c":"A2","x":[1986,1986.7,1997.3,1998],"y":[184.5,184.5,8,8],"y2":[185.5,185.5,9,9]},
{"g":"I","f":"I1-8","c":"A2","x":[1986,1986.7,1997.3,1998],"y":[185.5,185.5,164.75,164.75],"y2":[199.5,199.5,178.75,178.75]},
{"g":"I","f":"I1-9","c":"self","x":[1986,1986.7,1997.3,1998],"y":[199.5,199.5,213.5,213.5],"y2":[203.5,203.5,217.5,217.5]},
{"g":"I","f":"I1-10","c":"A1","x":[1986,1986.7,1997.3,1998],"y":[207.25,207.25,178.75,178.75],"y2":[208.25,208.25,179.75,179.75]},
{"g":"I","f":"I1-11","c":"A1","x":[1986,1986.7,1997.3,1998],"y":[208.25,208.25,217.5,217.5],"y2":[209.25,209.25,218.5,218.5]},
{"g":"I","f":"I1-12","c":"A1","x":[1986,1986.7,1997.3,1998],"y":[209.25,209.25,237,237],"y2":[210.25,210.25,238,238]},
{"g":"I","f":"I1-13","c":"NO","x":[1986,1986.7,1997.3,1998],"y":[214,214,179.75,179.75],"y2":[232,232,197.75,197.75]},
{"g":"I","f":"I1-14","c":"NO","x":[1986,1986.7,1997.3,1998],"y":[232,232,218.5,218.5],"y2":[237,237,223.5,223.5]},
{"g":"I","f":"I1-15","c":"NO","x":[1986,1986.7,1997.3,1998],"y":[237,237,230.25,230.25],"y2":[238,238,231.25,231.25]},
{"g":"I","f":"I1-16","c":"self","x":[1986,1986.7,1997.3,1998],"y":[238,238,238,238],"y2":[271,271,271,271]},
{"g":"I","f":"I2-1","c":"self","x":[1998,1998.7,2009.3,2010],"y":[0,0,0,0],"y2":[8,8,8,8]},
{"g":"I","f":"I2-2","c":"A6","x":[1998,1998.7,2009.3,2010],"y":[8,8,241,241],"y2":[9,9,242,242]},
{"g":"I","f":"I2-3","c":"A3","x":[1998,1998.7,2009.3,2010],"y":[12.75,12.75,8,8],"y2":[14.75,14.75,10,10]},
{"g":"I","f":"I2-4","c":"A3","x":[1998,1998.7,2009.3,2010],"y":[14.75,14.75,13.75,13.75],"y2":[16.75,16.75,15.75,15.75]},
{"g":"I","f":"I2-5","c":"self","x":[1998,1998.7,2009.3,2010],"y":[16.75,16.75,20.5,20.5],"y2":[186.75,186.75,190.5,190.5]},
{"g":"I","f":"I2-6","c":"A3","x":[1998,1998.7,2009.3,2010],"y":[186.75,186.75,219.25,219.25],"y2":[196.75,196.75,229.25,229.25]},
{"g":"I","f":"I2-7","c":"A3","x":[1998,1998.7,2009.3,2010],"y":[196.75,196.75,242,242],"y2":[197.75,197.75,243,243]},
{"g":"I","f":"I2-8","c":"A2","x":[1998,1998.7,2009.3,2010],"y":[201.5,201.5,190.5,190.5],"y2":[216.5,216.5,205.5,205.5]},
{"g":"I","f":"I2-9","c":"self","x":[1998,1998.7,2009.3,2010],"y":[216.5,216.5,229.25,229.25],"y2":[221.5,221.5,234.25,234.25]},
{"g":"I","f":"I2-10","c":"A2","x":[1998,1998.7,2009.3,2010],"y":[221.5,221.5,243,243],"y2":[223.5,223.5,245,245]},
{"g":"I","f":"I2-11","c":"A1","x":[1998,1998.7,2009.3,2010],"y":[227.25,227.25,205.5,205.5],"y2":[229.25,229.25,207.5,207.5]},
{"g":"I","f":"I2-12","c":"A1","x":[1998,1998.7,2009.3,2010],"y":[229.25,229.25,234.25,234.25],"y2":[230.25,230.25,235.25,235.25]},
{"g":"I","f":"I2-13","c":"A1","x":[1998,1998.7,2009.3,2010],"y":[230.25,230.25,245,245],"y2":[231.25,231.25,246,246]},
{"g":"I","f":"I2-14","c":"NO","x":[1998,1998.7,2009.3,2010],"y":[235,235,15.75,15.75],"y2":[236,236,16.75,16.75]},
{"g":"I","f":"I2-15","c":"NO","x":[1998,1998.7,2009.3,2010],"y":[236,236,207.5,207.5],"y2":[244,244,215.5,215.5]},
{"g":"I","f":"I2-16","c":"NO","x":[1998,1998.7,2009.3,2010],"y":[244,244,235.25,235.25],"y2":[246,246,237.25,237.25]},
{"g":"I","f":"I2-17","c":"self","x":[1998,1998.7,2009.3,2010],"y":[246,246,246,246],"y2":[271,271,271,271]},
{"g":"I","f":"I3-1","c":"self","x":[2010,2010.7,2021.3,2022],"y":[0,0,0,0],"y2":[2,2,2,2]},
{"g":"I","f":"I3-2","c":"A6","x":[2010,2010.7,2021.3,2022],"y":[2,2,13,13],"y2":[10,10,21,21]},
{"g":"I","f":"I3-3","c":"A5","x":[2010,2010.7,2021.3,2022],"y":[13.75,13.75,2,2],"y2":[14.75,14.75,3,3]},
{"g":"I","f":"I3-4","c":"self","x":[2010,2010.7,2021.3,2022],"y":[14.75,14.75,7,7],"y2":[16.75,16.75,9,9]},
{"g":"I","f":"I3-5","c":"A3","x":[2010,2010.7,2021.3,2022],"y":[20.5,20.5,3,3],"y2":[21.5,21.5,4,4]},
{"g":"I","f":"I3-6","c":"self","x":[2010,2010.7,2021.3,2022],"y":[21.5,21.5,21,21],"y2":[204.5,204.5,204,204]},
{"g":"I","f":"I3-7","c":"A3","x":[2010,2010.7,2021.3,2022],"y":[204.5,204.5,221,221],"y2":[211.5,211.5,228,228]},
{"g":"I","f":"I3-8","c":"A3","x":[2010,2010.7,2021.3,2022],"y":[211.5,211.5,234,234],"y2":[213.5,213.5,236,236]},
{"g":"I","f":"I3-9","c":"A3","x":[2010,2010.7,2021.3,2022],"y":[213.5,213.5,240,240],"y2":[215.5,215.5,242,242]},
{"g":"I","f":"I3-10","c":"A2","x":[2010,2010.7,2021.3,2022],"y":[219.25,219.25,9,9],"y2":[220.25,220.25,10,10]},
{"g":"I","f":"I3-11","c":"A2","x":[2010,2010.7,2021.3,2022],"y":[220.25,220.25,204,204],"y2":[230.25,230.25,214,214]},
{"g":"I","f":"I3-12","c":"self","x":[2010,2010.7,2021.3,2022],"y":[230.25,230.25,228,228],"y2":[232.25,232.25,230,230]},
{"g":"I","f":"I3-13","c":"A2","x":[2010,2010.7,2021.3,2022],"y":[232.25,232.25,236,236],"y2":[233.25,233.25,237,237]},
{"g":"I","f":"I3-14","c":"A2","x":[2010,2010.7,2021.3,2022],"y":[233.25,233.25,242,242],"y2":[237.25,237.25,246,246]},
{"g":"I","f":"I3-15","c":"NO","x":[2010,2010.7,2021.3,2022],"y":[241,241,214,214],"y2":[245,245,218,218]},
{"g":"I","f":"I3-16","c":"NO","x":[2010,2010.7,2021.3,2022],"y":[245,245,230,230],"y2":[246,246,231,231]},
{"g":"I","f":"I3-17","c":"self","x":[2010,2010.7,2021.3,2022],"y":[246,246,246,246],"y2":[271,271,271,271]}
]
},
"hconcat":[
{"vconcat":[
{"width":363,"height":301,
"title":{"text":"EXPORTS 1986-2022","font":"'DejaVu Sans Condensed', Roboto, sans-serif","fontSize":15,"fontWeight":"bold","color":"#1b6d8d","offset":10},
"view":{"stroke":"#555","strokeWidth":1.3},
"layer":[
{"data":{"values":[{}]},"mark":{"type":"rule","strokeDash":[4,3],"color":"#888","strokeWidth":1.4},"encoding":{"x":{"datum":0.3333,"type":"quantitative"}}},
{"data":{"values":[{}]},"mark":{"type":"rule","strokeDash":[4,3],"color":"#888","strokeWidth":1.4},"encoding":{"x":{"datum":0.6667,"type":"quantitative"}}},
{"data":{"values":[{}]},"mark":{"type":"rule","strokeDash":[4,3],"color":"#888","strokeWidth":1.4},"encoding":{"y":{"datum":2,"type":"quantitative"}}},
{"data":{"name":"pts"},"transform":[{"filter":"datum.p==='E'"}],"mark":{"type":"circle","size":30,"opacity":1},
"encoding":{"x":{"field":"x","type":"quantitative","scale":{"domain":[0,1],"nice":false,"zero":false},"axis":{"values":[0,0.2,0.4,0.6,0.8,1],"format":".1f","title":null,"grid":false,"domain":false,"labelFontSize":14,"tickSize":5,"labelPadding":3}},
"y":{"field":"y","type":"quantitative","scale":{"domain":[-1.35,12],"nice":false,"zero":false},"axis":{"values":[0,2,4,6,8,10,12],"title":"Z-score overlap, Z (oᵢ)","titleFontSize":21,"titleFontWeight":"normal","grid":false,"domain":false,"labelFontSize":14,"tickSize":5,"titlePadding":6}},
"color":{"field":"yr","type":"nominal","scale":{"domain":["1986","2022"],"range":["#f4918e","#1b4168"]},"legend":{"title":null,"orient":"none","legendX":157,"legendY":11,"labelFont":"'DejaVu Sans Condensed', Roboto, sans-serif","labelFontSize":17,"labelColor":"#222","symbolSize":170,"symbolType":"circle","rowPadding":0,"labelOffset":4}}}},
{"data":{"name":"traj"},"transform":[{"filter":"datum.p==='E'"}],"mark":{"type":"line","color":"#8d8d84","strokeWidth":1.3},"encoding":{"x":{"field":"x","type":"quantitative"},"y":{"field":"y","type":"quantitative"},"detail":{"field":"c"},"order":{"field":"o","type":"quantitative"}}},
{"data":{"name":"hl"},"transform":[{"filter":"datum.p==='E'"}],"mark":{"type":"point","filled":true,"size":48,"opacity":1,"stroke":"#3a2525","strokeWidth":1.2,"shape":"circle"},"encoding":{"x":{"field":"x","type":"quantitative"},"y":{"field":"y","type":"quantitative"},"fill":{"field":"yr","type":"nominal","scale":{"domain":["1986","2022"],"range":["#f4918e","#1b4168"]},"legend":null}}},
{"data":{"name":"ann"},"transform":[{"filter":"datum.p==='E' && datum.k==='z'"}],"mark":{"type":"text","align":"left","baseline":"middle","font":"'DejaVu Sans Condensed', Roboto, sans-serif","fontSize":15,"fontWeight":"bold","color":"#444"},"encoding":{"x":{"field":"x","type":"quantitative"},"y":{"field":"y","type":"quantitative"},"text":{"field":"t"}}},
{"data":{"name":"ann"},"transform":[{"filter":"datum.p==='E' && datum.k==='c'"}],"mark":{"type":"text","align":"center","baseline":"middle","font":"'DejaVu Sans Condensed', Roboto, sans-serif","fontSize":14,"fontWeight":"bold","color":"#1a9c78"},"encoding":{"x":{"field":"x","type":"quantitative"},"y":{"field":"y","type":"quantitative"},"text":{"field":"t"}}}
]},
{"width":363,"height":298,
"title":{"text":"IMPORTS 1986-2022","font":"'DejaVu Sans Condensed', Roboto, sans-serif","fontSize":15,"fontWeight":"bold","color":"#1b6d8d","offset":7},
"view":{"stroke":"#555","strokeWidth":1.3},
"layer":[
{"data":{"values":[{}]},"mark":{"type":"rule","strokeDash":[4,3],"color":"#888","strokeWidth":1.4},"encoding":{"x":{"datum":0.3333,"type":"quantitative"}}},
{"data":{"values":[{}]},"mark":{"type":"rule","strokeDash":[4,3],"color":"#888","strokeWidth":1.4},"encoding":{"x":{"datum":0.6667,"type":"quantitative"}}},
{"data":{"values":[{}]},"mark":{"type":"rule","strokeDash":[4,3],"color":"#888","strokeWidth":1.4},"encoding":{"y":{"datum":2,"type":"quantitative"}}},
{"data":{"name":"pts"},"transform":[{"filter":"datum.p==='I'"}],"mark":{"type":"circle","size":30,"opacity":1},
"encoding":{"x":{"field":"x","type":"quantitative","scale":{"domain":[0,1],"nice":false,"zero":false},"axis":{"values":[0,0.2,0.4,0.6,0.8,1],"format":".1f","title":"Participation coefficient, Pᵢ","titleFontSize":20,"titleFontWeight":"normal","titlePadding":6,"grid":false,"domain":false,"labelFontSize":14,"tickSize":5,"labelPadding":3}},
"y":{"field":"y","type":"quantitative","scale":{"domain":[-1.4,12],"nice":false,"zero":false},"axis":{"values":[0,2,4,6,8,10,12],"title":"Z-score overlap, Z (oᵢ)","titleFontSize":21,"titleFontWeight":"normal","grid":false,"domain":false,"labelFontSize":14,"tickSize":5,"titlePadding":6}},
"color":{"field":"yr","type":"nominal","scale":{"domain":["1986","2022"],"range":["#f4918e","#1b4168"]},"legend":{"title":null,"orient":"none","legendX":157,"legendY":8,"labelFont":"'DejaVu Sans Condensed', Roboto, sans-serif","labelFontSize":17,"labelColor":"#222","symbolSize":170,"symbolType":"circle","rowPadding":0,"labelOffset":4}}}},
{"data":{"name":"traj"},"transform":[{"filter":"datum.p==='I'"}],"mark":{"type":"line","color":"#8d8d84","strokeWidth":1.3},"encoding":{"x":{"field":"x","type":"quantitative"},"y":{"field":"y","type":"quantitative"},"detail":{"field":"c"},"order":{"field":"o","type":"quantitative"}}},
{"data":{"name":"hl"},"transform":[{"filter":"datum.p==='I'"}],"mark":{"type":"point","filled":true,"size":48,"opacity":1,"stroke":"#3a2525","strokeWidth":1.2,"shape":"circle"},"encoding":{"x":{"field":"x","type":"quantitative"},"y":{"field":"y","type":"quantitative"},"fill":{"field":"yr","type":"nominal","scale":{"domain":["1986","2022"],"range":["#f4918e","#1b4168"]},"legend":null}}},
{"data":{"name":"ann"},"transform":[{"filter":"datum.p==='I' && datum.k==='z'"}],"mark":{"type":"text","align":"left","baseline":"middle","font":"'DejaVu Sans Condensed', Roboto, sans-serif","fontSize":15,"fontWeight":"bold","color":"#444"},"encoding":{"x":{"field":"x","type":"quantitative"},"y":{"field":"y","type":"quantitative"},"text":{"field":"t"}}},
{"data":{"name":"ann"},"transform":[{"filter":"datum.p==='I' && datum.k==='c'"}],"mark":{"type":"text","align":"center","baseline":"middle","font":"'DejaVu Sans Condensed', Roboto, sans-serif","fontSize":14,"fontWeight":"bold","color":"#1a9c78"},"encoding":{"x":{"field":"x","type":"quantitative"},"y":{"field":"y","type":"quantitative"},"text":{"field":"t"}}}
]}
],"spacing":76,"bounds":"flush","resolve":{"scale":{"color":"independent","fill":"independent"},"legend":{"color":"independent"}}},
{"vconcat":[
{"width":683,"height":3,"data":{"values":[{}]},"mark":{"type":"point","opacity":0},"encoding":{}},
{"width":683,"height":271,
"title":{"text":"EXPORTS","font":"'DejaVu Sans Condensed', Roboto, sans-serif","fontSize":19,"fontWeight":"bold","color":"#1b6d8d","offset":1},
"layer":[
{"data":{"name":"flows"},"transform":[{"filter":"datum.g==='E' && datum.c==='self'"},{"flatten":["x","y","y2"]}],"mark":{"type":"area","interpolate":"monotone","color":"#e8e8e8"},
"encoding":{"x":{"field":"x","type":"quantitative","scale":{"domain":[1985.29,2022.71],"nice":false,"zero":false},"axis":{"orient":"top","values":[1986,1998,2010,2022],"format":"d","ticks":false,"domain":false,"grid":false,"labelFontSize":14,"labelPadding":18,"title":null,"labelColor":"#111"}},
"y":{"field":"y","type":"quantitative","scale":{"domain":[0,271],"reverse":true,"nice":false,"zero":false},"axis":null},"y2":{"field":"y2"},"detail":{"field":"f"}}},
{"data":{"name":"flows"},"transform":[{"filter":"datum.g==='E' && datum.c!=='self'"},{"flatten":["x","y","y2"]}],"mark":{"type":"area","interpolate":"monotone","opacity":0.5},
"encoding":{"x":{"field":"x","type":"quantitative"},"y":{"field":"y","type":"quantitative"},"y2":{"field":"y2"},"detail":{"field":"f"},
"color":{"field":"c","type":"nominal","scale":{"domain":["A6","A5","A4","A3","A2","A1","NO"],"range":["#1b4570","#3f6f96","#4c84a9","#5a91b4","#62c3eb","#a9c6de","#b3b3b3"]},"legend":null}}},
{"data":{"name":"nodes"},"transform":[{"filter":"datum.g==='E'"}],"mark":{"type":"bar","width":26},
"encoding":{"x":{"field":"x","type":"quantitative"},"y":{"field":"y","type":"quantitative"},"y2":{"field":"y2"},
"fill":{"field":"n","type":"nominal","scale":{"domain":["A6","A5","A4","A3","A2","A1","NO"],"range":["#1b4570","#3f6f96","#4c84a9","#5a91b4","#62c3eb","#a9c6de","#d0d0d0"]},"legend":null}}},
{"data":{"name":"nodes"},"transform":[{"filter":"datum.g==='E' && datum.p==='in'"}],"mark":{"type":"text","align":"center","baseline":"middle","fontSize":13,"color":"#111"},"encoding":{"x":{"field":"x","type":"quantitative"},"y":{"field":"m","type":"quantitative"},"text":{"field":"n"}}},
{"data":{"name":"nodes"},"transform":[{"filter":"datum.g==='E' && datum.p==='top'"}],"mark":{"type":"text","align":"center","baseline":"bottom","dy":-1,"fontSize":13,"color":"#111"},"encoding":{"x":{"field":"x","type":"quantitative"},"y":{"field":"m","type":"quantitative"},"text":{"field":"n"}}},
{"data":{"name":"nodes"},"transform":[{"filter":"datum.g==='E' && datum.p==='l'"}],"mark":{"type":"text","align":"right","baseline":"middle","dx":-14,"fontSize":13,"color":"#111"},"encoding":{"x":{"field":"x","type":"quantitative"},"y":{"field":"m","type":"quantitative"},"text":{"field":"n"}}},
{"data":{"name":"nodes"},"transform":[{"filter":"datum.g==='E' && datum.p==='r'"}],"mark":{"type":"text","align":"left","baseline":"middle","dx":14,"fontSize":13,"color":"#111"},"encoding":{"x":{"field":"x","type":"quantitative"},"y":{"field":"m","type":"quantitative"},"text":{"field":"n"}}}
],"resolve":{"scale":{"color":"independent"}}},
{"width":697,"height":67,"data":{"values":[{"a":0,"b":1,"c":17,"d":19}]},
"mark":{"type":"rect","color":{"gradient":"linear","x1":0,"x2":1,"y1":0,"y2":0,"stops":[{"offset":0,"color":"#ffffff"},{"offset":0.12,"color":"#a0a0a0"},{"offset":0.5,"color":"#8a8a8a"},{"offset":0.88,"color":"#909090"},{"offset":1,"color":"#ffffff"}]}},
"encoding":{"x":{"field":"a","type":"quantitative","scale":{"domain":[0,1]},"axis":null},"x2":{"field":"b"},"y":{"field":"c","type":"quantitative","scale":{"domain":[0,67],"reverse":true,"nice":false,"zero":false},"axis":null},"y2":{"field":"d"}}},
{"width":683,"height":271,
"title":{"text":"IMPORTS","font":"'DejaVu Sans Condensed', Roboto, sans-serif","fontSize":19,"fontWeight":"bold","color":"#1b6d8d","offset":-5},
"layer":[
{"data":{"name":"flows"},"transform":[{"filter":"datum.g==='I' && datum.c==='self'"},{"flatten":["x","y","y2"]}],"mark":{"type":"area","interpolate":"monotone","color":"#e8e8e8"},
"encoding":{"x":{"field":"x","type":"quantitative","scale":{"domain":[1985.29,2022.71],"nice":false,"zero":false},"axis":{"orient":"top","values":[1986,1998,2010,2022],"format":"d","ticks":false,"domain":false,"grid":false,"labelFontSize":14,"labelPadding":18,"title":null,"labelColor":"#111"}},
"y":{"field":"y","type":"quantitative","scale":{"domain":[0,271],"reverse":true,"nice":false,"zero":false},"axis":null},"y2":{"field":"y2"},"detail":{"field":"f"}}},
{"data":{"name":"flows"},"transform":[{"filter":"datum.g==='I' && datum.c!=='self'"},{"flatten":["x","y","y2"]}],"mark":{"type":"area","interpolate":"monotone","opacity":0.5},
"encoding":{"x":{"field":"x","type":"quantitative"},"y":{"field":"y","type":"quantitative"},"y2":{"field":"y2"},"detail":{"field":"f"},
"color":{"field":"c","type":"nominal","scale":{"domain":["A6","A5","A4","A3","A2","A1","NO"],"range":["#1b4570","#3f6f96","#4c84a9","#5a91b4","#62c3eb","#a9c6de","#b3b3b3"]},"legend":null}}},
{"data":{"name":"nodes"},"transform":[{"filter":"datum.g==='I'"}],"mark":{"type":"bar","width":26},
"encoding":{"x":{"field":"x","type":"quantitative"},"y":{"field":"y","type":"quantitative"},"y2":{"field":"y2"},
"fill":{"field":"n","type":"nominal","scale":{"domain":["A6","A5","A4","A3","A2","A1","NO"],"range":["#1b4570","#3f6f96","#4c84a9","#5a91b4","#62c3eb","#a9c6de","#d0d0d0"]},"legend":null}}},
{"data":{"name":"nodes"},"transform":[{"filter":"datum.g==='I' && datum.p==='in'"}],"mark":{"type":"text","align":"center","baseline":"middle","fontSize":13,"color":"#111"},"encoding":{"x":{"field":"x","type":"quantitative"},"y":{"field":"m","type":"quantitative"},"text":{"field":"n"}}},
{"data":{"name":"nodes"},"transform":[{"filter":"datum.g==='I' && datum.p==='top'"}],"mark":{"type":"text","align":"center","baseline":"bottom","dy":-1,"fontSize":13,"color":"#111"},"encoding":{"x":{"field":"x","type":"quantitative"},"y":{"field":"m","type":"quantitative"},"text":{"field":"n"}}},
{"data":{"name":"nodes"},"transform":[{"filter":"datum.g==='I' && datum.p==='l'"}],"mark":{"type":"text","align":"right","baseline":"middle","dx":-14,"fontSize":13,"color":"#111"},"encoding":{"x":{"field":"x","type":"quantitative"},"y":{"field":"m","type":"quantitative"},"text":{"field":"n"}}},
{"data":{"name":"nodes"},"transform":[{"filter":"datum.g==='I' && datum.p==='r'"}],"mark":{"type":"text","align":"left","baseline":"middle","dx":14,"fontSize":13,"color":"#111"},"encoding":{"x":{"field":"x","type":"quantitative"},"y":{"field":"m","type":"quantitative"},"text":{"field":"n"}}}
],"resolve":{"scale":{"color":"independent"}}}
],"spacing":20,"bounds":"flush","resolve":{"scale":{"color":"independent","fill":"independent"}}}
],
"spacing":52,
"resolve":{"scale":{"color":"independent","fill":"independent"},"legend":{"color":"independent"}}
}
